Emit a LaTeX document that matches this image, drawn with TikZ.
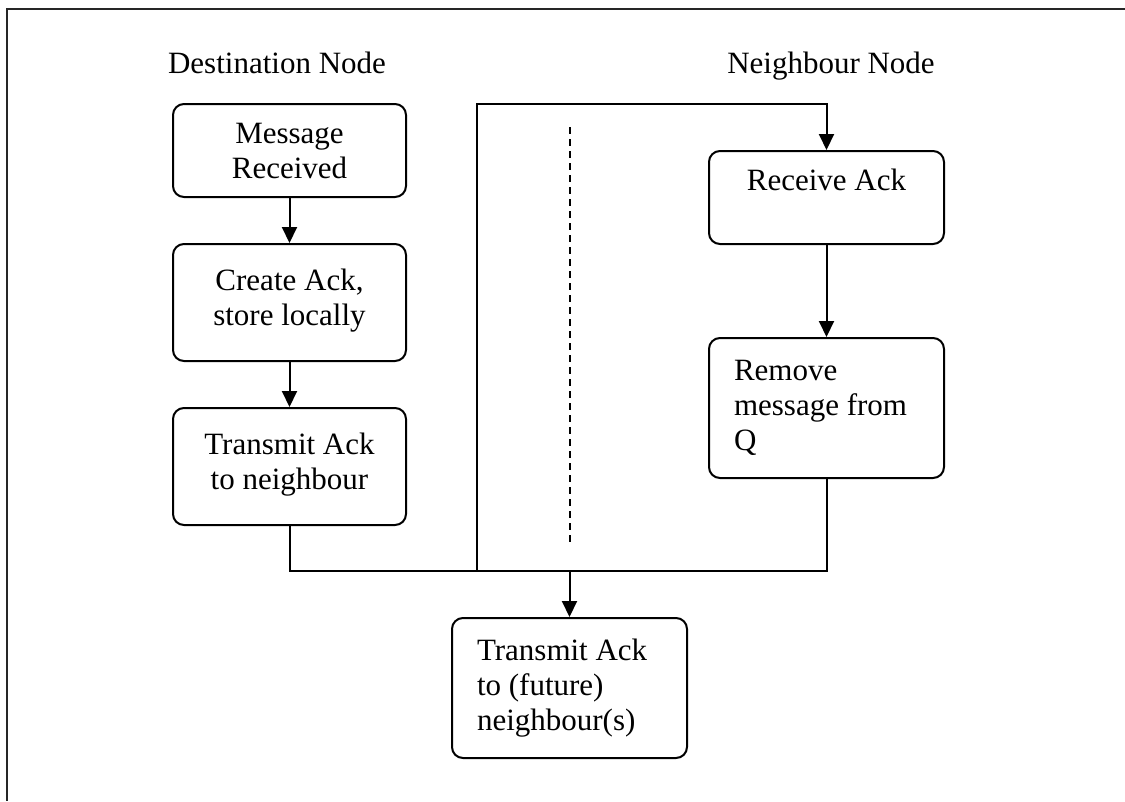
\documentclass[tikz,border=0pt]{standalone}
\usepackage{fontspec}
\setmainfont{Liberation Serif}
\usetikzlibrary{arrows.meta}
\begin{document}
\begin{tikzpicture}[x=1pt,y=-1pt,
  font=\fontsize{31}{35}\selectfont,
  box/.style={draw, line width=2pt, rounded corners=11pt, inner sep=0pt},
  cbox/.style={box, align=center, minimum width=233pt},
  lbox/.style={box, align=flush left, text width=185pt, inner xsep=25pt, minimum width=235pt},
  conn/.style={line width=2pt},
  arr/.style={conn, -{Triangle[length=16pt,width=15pt]}},
  title/.style={inner sep=0pt, anchor=base}]
\useasboundingbox (0,0) rectangle (1125,801);
\draw[line width=2.6pt, black!85] (1125,9) -- (7,9) -- (7,801);

\node[title] (dest) at (277,73) {Destination Node};
\node[title] (neigh) at (831,73) {Neighbour Node};

\node[cbox, minimum height=93pt] (m1) at (289.5,150.5) {Message\\Received};
\node[cbox, minimum height=117pt] (m2) at (289.5,302.5) {Create Ack,\\store locally\\[-25pt]\mbox{}};
\node[cbox, minimum height=117pt] (m3) at (289.5,466.5) {Transmit Ack\\to neighbour\\[-25pt]\mbox{}};
\node[cbox, minimum width=235pt, minimum height=93pt] (r1) at (826.5,197.5) {Receive Ack\\\mbox{}};
\node[lbox, minimum height=140pt] (r2) at (826.5,408) {Remove\\message from\\Q};
\node[lbox, minimum height=140pt] (t4) at (569.5,688) {Transmit Ack\\to (future)\\neighbour(s)};

\coordinate (j) at (569.5,571);
\coordinate (tb) at (477,571);
\coordinate (tt) at (477,104);
\coordinate (d1) at (570,127);
\coordinate (d2) at (570,545);

\draw[arr] (m1) -- (m2);
\draw[arr] (m2) -- (m3);
\draw[arr] (r1) -- (r2);
\draw[arr] (m3.south) |- (j) -- (t4.north);
\draw[conn] (r2.south) |- (j);
\draw[arr] (tb) -- (tt) -| (r1.north);
\draw[line width=1.4pt, dash pattern=on 7pt off 5pt] (d1) -- (d2);
\end{tikzpicture}
\end{document}
